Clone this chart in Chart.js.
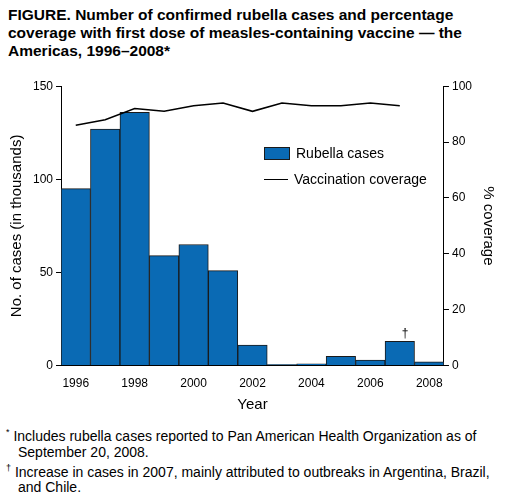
<!DOCTYPE html>
<html>
<head>
<meta charset="utf-8">
<script src="https://cdn.jsdelivr.net/npm/chart.js@4"></script>
<style>
  body { margin: 0; background: #fff; font-family: "Liberation Sans", Arial, sans-serif; }
  #wrap { position: relative; width: 515px; height: 499px; }
  #title { position: absolute; left: 8px; top: 6px; width: 492px; font-weight: bold; font-size: 15.5px; line-height: 18px; color: #000; }
  #chartbox { position: absolute; left: 0; top: 76px; width: 515px; height: 340px; }
  #legend { position: absolute; left: 264px; top: 140px; font-size: 14px; color: #000; }
  #legend div { height: 26px; display: flex; align-items: center; }
  .sw { width: 24px; height: 11px; background: #0a6ab4; border: 1px solid #1a1a1a; margin-right: 6px; }
  .ln { width: 24px; height: 0; border-top: 1.5px solid #000; margin-right: 6px; }
  #notes { position: absolute; left: 6px; top: 424px; width: 507px; font-size: 14px; line-height: 16px; color: #000; }
  #notes p { margin: 0 0 0 12px; text-indent: -12px; }
  sup { font-size: 9px; }
</style>
</head>
<body>
<div id="wrap">
  <div id="title">FIGURE. Number of confirmed rubella cases and percentage coverage with first dose of measles-containing vaccine — the Americas, 1996–2008*</div>
  <div id="chartbox"><canvas id="c" width="515" height="340"></canvas></div>
  <div id="legend">
    <div><span class="sw"></span>Rubella cases</div>
    <div><span class="ln"></span>Vaccination coverage</div>
  </div>
  <div id="notes">
    <p><sup>*</sup> Includes rubella cases reported to Pan American Health Organization as of September 20, 2008.</p>
    <p><sup>†</sup> Increase in cases in 2007, mainly attributed to outbreaks in Argentina, Brazil, and Chile.</p>
  </div>
</div>
<script>
  const years = ["1996","1997","1998","1999","2000","2001","2002","2003","2004","2005","2006","2007","2008"];
  const cases = [95, 127, 136, 59, 65, 51, 11, 0.5, 1, 5, 3, 13, 2];
  const coverage = [86, 88, 92, 91, 93, 94, 91, 94, 93, 93, 94, 93, null];
  const footnoteYear = "2007";

  const dagger = {
    id: "dagger",
    afterDatasetsDraw(chart) {
      const ctx = chart.ctx;
      const i = years.indexOf(footnoteYear);
      const el = chart.getDatasetMeta(1).data[i];
      ctx.save();
      ctx.fillStyle = "#000";
      ctx.font = "12px 'Liberation Sans', Arial";
      ctx.textAlign = "left";
      ctx.fillText("†", el.x + 2, el.y - 4);
      ctx.restore();
    }
  };

  const tickFont = { family: "'Liberation Sans', Arial", size: 12 };
  const titleFont = { family: "'Liberation Sans', Arial", size: 15 };
  new Chart(document.getElementById("c"), {
    data: {
      labels: years,
      datasets: [
        { type: "line", data: coverage, yAxisID: "y2", borderColor: "#000", borderWidth: 1.5, pointRadius: 0, tension: 0, fill: false, order: 0 },
        { type: "bar", data: cases, yAxisID: "y", backgroundColor: "#0a6ab4", borderColor: "#1a1a1a", borderWidth: 1, barPercentage: 1, categoryPercentage: 1, order: 1 }
      ]
    },
    options: {
      responsive: false, animation: false,
      layout: { padding: { left: 4, right: 14, top: 6, bottom: 0 } },
      plugins: { legend: { display: false }, tooltip: { enabled: false } },
      scales: {
        x: {
          grid: { display: false, drawTicks: true },
          border: { color: "#000" },
          ticks: { color: "#000", font: tickFont, maxRotation: 0, autoSkip: false,
            callback: (v, i) => (i % 2 === 0 ? years[i] : "") },
          title: { display: true, text: "Year", color: "#000", font: titleFont, padding: 2 }
        },
        y: {
          position: "left", min: 0, max: 150,
          grid: { drawOnChartArea: false, color: "#000", tickLength: 5 },
          border: { color: "#000" },
          ticks: { stepSize: 50, color: "#000", font: tickFont },
          title: { display: true, text: "No. of cases (in thousands)", color: "#000", font: titleFont }
        },
        y2: {
          position: "right", min: 0, max: 100,
          grid: { drawOnChartArea: false, color: "#000", tickLength: 5 },
          border: { color: "#000" },
          ticks: { stepSize: 20, color: "#000", font: tickFont },
          title: { display: true, text: "% coverage", color: "#000", font: titleFont }
        }
      }
    },
    plugins: [dagger]
  });
</script>
</body>
</html>
